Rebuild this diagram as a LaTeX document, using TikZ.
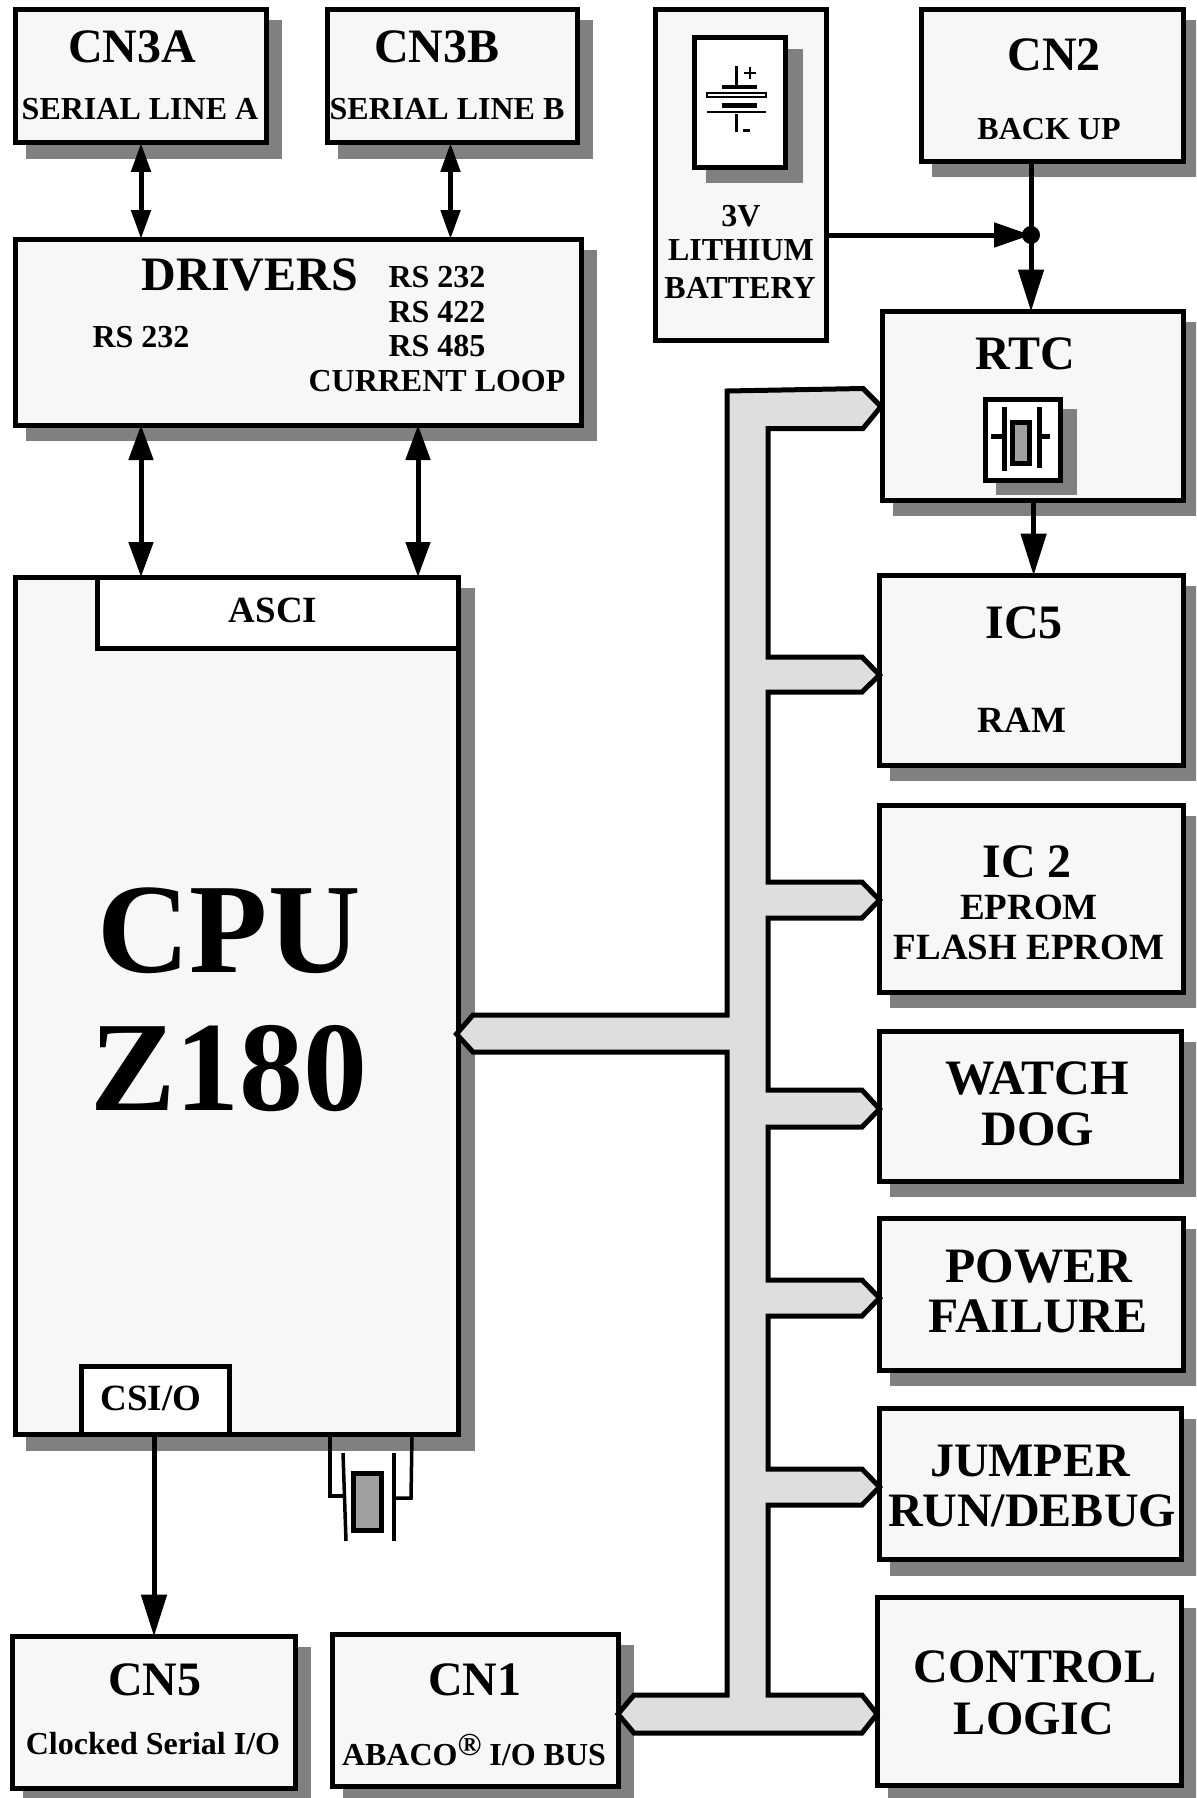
\documentclass[tikz,border=0pt]{standalone}
\usepackage{fontspec}
\setmainfont{Liberation Serif}
\usetikzlibrary{arrows.meta}
\definecolor{boxfill}{HTML}{F7F7F7}
\definecolor{shadowgray}{HTML}{808080}
\definecolor{busfill}{HTML}{DEDEDE}
\definecolor{xtalfill}{HTML}{A0A0A0}
\tikzset{
  box/.style={draw=black,line width=5pt,fill=boxfill,inner sep=0pt,outer sep=0pt},
  whitebox/.style={box,fill=white},
  wire/.style={draw=black,line width=5pt},
  thinwire/.style={draw=black,line width=3.5pt},
  big/.style={-{Triangle[length=42pt,width=25pt]}},
  bigshort/.style={-{Triangle[length=37pt,width=24pt]}},
  lbl/.style={anchor=base,inner sep=0pt,font=\bfseries\fontsize{48}{48}\selectfont},
  mid/.style={lbl,font=\bfseries\fontsize{32}{32}\selectfont},
  lrg/.style={lbl,font=\bfseries\fontsize{37}{37}\selectfont},
  wide/.style={lbl,font=\bfseries\fontsize{49.5}{49.5}\selectfont},
  hugelbl/.style={lbl,font=\bfseries\fontsize{128}{128}\selectfont},
  xplate/.style={draw=black,line width=5pt},
  dbl/.style={{Triangle[length=29pt,width=19pt]}-{Triangle[length=29pt,width=19pt]}},
  dblbig/.style={{Triangle[length=35pt,width=24pt]}-{Triangle[length=35pt,width=24pt]}},
}
% name, x1, y1, x2, y2 (box with shadow)
\newcommand{\shbox}[5]{%
  \fill[shadowgray] ({#2+10.5},{#3+10.5}) rectangle ({#4+16},{#5+16});
  \node[box,minimum width={(#4-#2)*1pt},minimum height={(#5-#3)*1pt}] (#1) at ({(#2+#4)/2},{(#3+#5)/2}) {};
}
\begin{document}
\begin{tikzpicture}[x=1pt,y=-1pt]
\clip (0,0) rectangle (1196,1798);

% battery (no outer shadow)
\node[box,minimum width=171pt,minimum height=331pt] (bat) at (741,175) {};
\fill[shadowgray] (706,49) rectangle (803,183);
\node[whitebox,minimum width=91pt,minimum height=130pt] (baticon) at (740,103) {};
\draw[draw=black,line width=2.5pt] (736.5,66) -- (736.5,85);
\fill (722,85) rectangle (757,89.5);
\draw[draw=black,fill=white,line width=1.2pt] (707,93) rectangle (766,97);
\fill (722,103) rectangle (757,108);
\draw[draw=black,line width=1.2pt] (707,112) -- (766,112);
\draw[draw=black,line width=2.5pt] (736.5,114) -- (736.5,132);
\draw[draw=black,line width=2pt] (744,73.5) -- (756,73.5) (750,67.5) -- (750,79.5);
\fill (743,129.5) rectangle (750,132);
\node[mid] (t3v) at (741,226) {3V};
\node[mid] (tlith) at (741,260) {LITHIUM};
\node[mid] (tbatt) at (740,298.5) {BATTERY};

\shbox{cn3a}{15}{9.5}{266}{143}
\shbox{cn3b}{327}{9.5}{577}{143}
\shbox{cn2}{921.5}{9.5}{1183.5}{161.5}
\shbox{rtc}{882.5}{311.5}{1183.5}{500}
\shbox{drivers}{15}{239}{581}{425}
\shbox{cpu}{15}{577}{458.5}{1434.5}
\shbox{ic5}{879.5}{575.5}{1183}{765}
\shbox{ic2}{879.5}{805}{1183}{992}
\shbox{watch}{879.5}{1031}{1181}{1181}
\shbox{power}{879.5}{1218}{1183}{1370}
\shbox{jumper}{879.5}{1408}{1181}{1559.5}
\shbox{ctrl}{877}{1597}{1181}{1785}
\shbox{cn5}{12.5}{1636.5}{295}{1788.5}
\shbox{cn1}{332.5}{1634}{618}{1786}

% sub-blocks of the CPU
\node[whitebox,minimum width=361pt,minimum height=71pt] (asci) at (277.5,612.5) {};
\node[whitebox,minimum width=147.5pt,minimum height=68pt] (csio) at (155.25,1400.5) {};

% crystal in RTC
\fill[shadowgray] (996,409) rectangle (1077,495);
\node[whitebox,minimum width=75pt,minimum height=81pt] (rtcx) at (1023,439.5) {};
\draw[xplate] (1004.5,407) -- (1004.5,471);
\draw[xplate] (1039.6,407) -- (1039.6,468);
\draw[xplate] (991,436) -- (1004.5,436);
\draw[xplate] (1039.6,436) -- (1050,436);
\draw[xplate,fill=xtalfill] (1012.5,422.5) rectangle (1029.5,463.5);

% CPU crystal
\coordinate (xl) at (330,1434.5);
\coordinate (xr) at (412,1434.5);
\draw[thinwire] (xl) -- (330,1496) -- (345,1496);
\draw[thinwire] (xr) -- (411,1498) -- (394,1498);
\draw[thinwire] (343,1453) -- (346,1541);
\draw[thinwire] (394,1453) -- (394,1541);
\draw[xplate,fill=xtalfill] (353.5,1473.5) rectangle (381,1530.5);

% bus
\draw[draw=black,fill=busfill,line width=5pt,miter limit=10]
  (727,391) -- (863,388.5) -- ([xshift=-1.5pt]rtc.west |- 0,406.5) -- (863,428.5) -- (768,428.5)
  -- (768,657) -- (862,657) -- (ic5.west |- 0,675) -- (862,692) -- (768,692)
  -- (768,882) -- (862,882) -- (ic2.west |- 0,900) -- (862,918) -- (768,918)
  -- (768,1090) -- (862,1090) -- (watch.west |- 0,1109) -- (862,1127) -- (768,1127)
  -- (768,1280) -- (862,1280) -- (power.west |- 0,1298) -- (862,1316) -- (768,1316)
  -- (768,1469) -- (862,1469) -- (jumper.west |- 0,1487) -- (862,1505) -- (768,1505)
  -- (768,1695) -- (862,1695) -- (ctrl.west |- 0,1714) -- (862,1733)
  -- (634,1733) -- (cn1.east |- 0,1714) -- (634,1695) -- (727,1695)
  -- (727,1052) -- (473,1052) -- ([xshift=-2pt]cpu.east |- 0,1034) -- (473,1015) -- (727,1015) -- cycle;

% connectors
\draw[wire,dbl] (cn3a.south -| 141,0) -- (drivers.north -| 141,0);
\draw[wire,dbl] (cn3b.south -| 450.5,0) -- (drivers.north -| 450.5,0);
\draw[wire,dblbig] (drivers.south -| 141,0) -- (asci.north -| 141,0);
\draw[wire,dblbig] (drivers.south -| 418,0) -- (asci.north -| 418,0);
\coordinate (junc) at (1031,235);
\draw[wire,big] (cn2.south -| junc) -- (rtc.north -| junc);
\draw[wire,bigshort] (bat.east |- junc) -- (junc);
\fill (junc) circle (9);
\draw[wire,big] (rtc.south -| 1033.6,0) -- (ic5.north -| 1033.6,0);
\draw[wire,big] (csio.south -| 154,0) -- (cn5.north -| 154,0);

% texts
\node[lbl] (a1) at (132,63) {CN3A};
\node[mid] (a2) at (140,120) {SERIAL LINE A};
\node[lbl] (b1) at (437,63) {CN3B};
\node[mid] (b2) at (447,120) {SERIAL LINE B};
\node[lbl] (c1) at (1054,71) {CN2};
\node[mid] (c2) at (1049,139.5) {BACK UP};
\node[lbl] (r1) at (1025,369.5) {RTC};
\node[lbl] (d1) at (250,290) {DRIVERS};
\node[mid] (d2) at (141,347) {RS 232};
\node[mid] (d3) at (437,287) {RS 232};
\node[mid] (d4) at (437,322) {RS 422};
\node[mid] (d5) at (437,356.5) {RS 485};
\node[mid] (d6) at (437,391) {CURRENT LOOP};
\node[lrg] (as) at (273,622) {ASCI};
\node[hugelbl] (cp1) at (229,972) {CPU};
\node[hugelbl] (cp2) at (229,1110) {Z180};
\node[lrg] (cs) at (151,1410) {CSI/O};
\node[lbl] (n51) at (155,1695) {CN5};
\node[mid] (n52) at (153,1754) {Clocked Serial I/O};
\node[lbl] (n11) at (475,1695) {CN1};
\node[mid] (n12) at (474,1765) {ABACO\raisebox{10pt}{®} I/O BUS};
\node[lbl] (i51) at (1024,638) {IC5};
\node[lrg] (i52) at (1022,732) {RAM};
\node[lbl] (i21) at (1027,877) {IC 2};
\node[lrg] (i22) at (1029,919) {EPROM};
\node[lrg] (i23) at (1029,959) {FLASH EPROM};
\node[wide] (w1) at (1037,1094) {WATCH};
\node[wide] (w2) at (1038,1145) {DOG};
\node[wide] (p1) at (1039,1282) {POWER};
\node[wide] (p2) at (1038,1332) {FAILURE};
\node[lbl] (j1) at (1030,1476) {JUMPER};
\node[lbl] (j2) at (1032,1526) {RUN/DEBUG};
\node[lbl] (l1) at (1035,1682) {CONTROL};
\node[lbl] (l2) at (1034,1734) {LOGIC};
\end{tikzpicture}
\end{document}
